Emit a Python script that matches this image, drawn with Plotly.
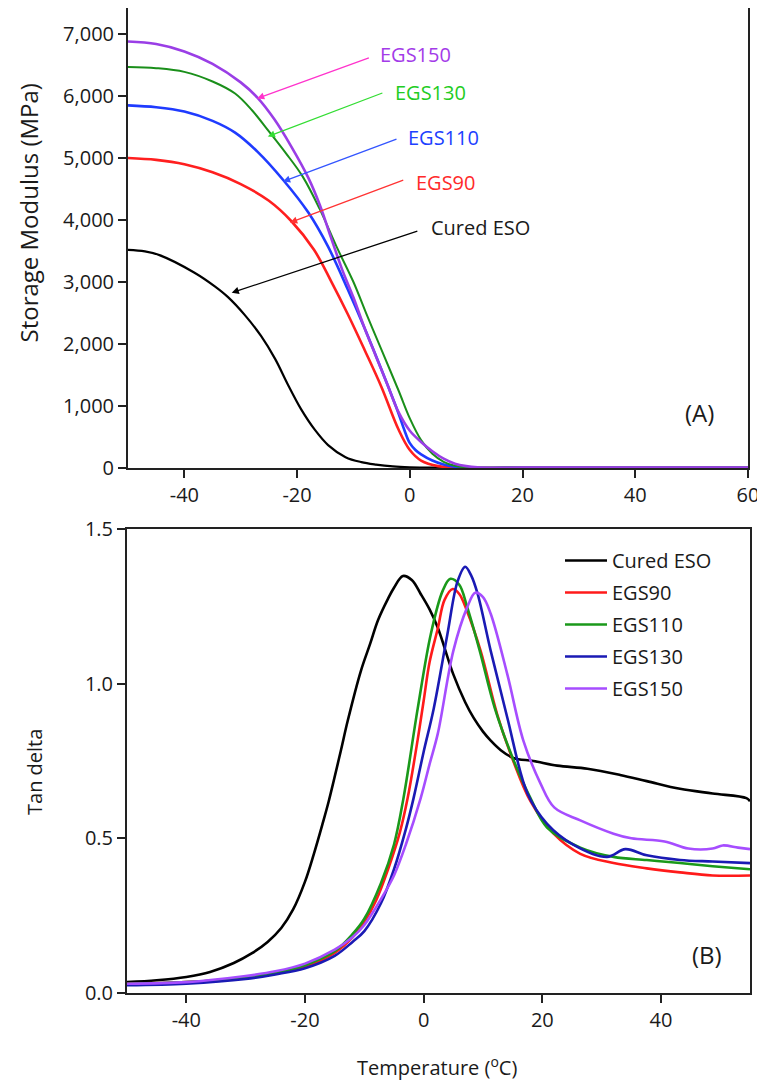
import plotly.graph_objects as go

# ---------------- Panel A: storage modulus (MPa) ----------------
sm_eso_x = [-50, -47, -44.3, -38.2, -34.6, -32.3, -29.3, -26.4, -23.9, -21.6, -19.3, -16.8, -14.5, -11.4, -8.6, -6, -3, 0, 5, 10, 20, 30, 40, 50, 60]
sm_eso_y = [3520, 3495, 3430, 3150, 2930, 2760, 2470, 2130, 1760, 1340, 950, 610, 370, 175, 95, 55, 25, 12, 5, 3, 2, 2, 2, 2, 2]

sm_90_x = [-50, -45, -40, -35, -30, -25, -21, -17, -14, -11, -8, -5, -2, 0, 2, 5, 10, 20, 30, 40, 50, 60]
sm_90_y = [5000, 4970, 4900, 4770, 4580, 4310, 3980, 3520, 3020, 2480, 1900, 1300, 620, 290, 120, 30, 5, 2, 2, 2, 2, 2]

sm_110_x = [-50, -45, -40, -35, -31, -27, -22.5, -18, -14.5, -11, -8, -5, -2, -1, 0, 1, 2, 4, 6, 8, 10, 20, 30, 40, 50, 60]
sm_110_y = [5850, 5820, 5750, 5600, 5410, 5100, 4650, 4120, 3570, 2880, 2250, 1580, 880, 620, 400, 290, 220, 120, 55, 20, 5, 2, 2, 2, 2, 2]

sm_130_x = [-50, -45, -40, -35, -31, -28, -25, -22, -19, -16, -13, -10, -7.5, -5, -2, 0, 2, 4, 6, 8, 10, 15, 20, 30, 40, 50, 60]
sm_130_y = [6470, 6450, 6390, 6235, 6040, 5770, 5430, 5080, 4700, 4180, 3570, 3000, 2440, 1900, 1250, 800, 450, 230, 100, 35, 10, 3, 2, 2, 2, 2, 2]

sm_150_x = [-50, -45, -40, -35, -30, -27, -24, -21, -18, -16, -14, -12, -10, -8, -6, -4, -2, 0, 2, 4, 6, 8, 10, 12, 15, 20, 30, 40, 50, 60]
sm_150_y = [6880, 6840, 6720, 6520, 6220, 5970, 5620, 5180, 4680, 4250, 3720, 3200, 2750, 2250, 1800, 1350, 900, 600, 420, 270, 150, 70, 30, 10, 3, 2, 2, 2, 2, 2]

# ---------------- Panel B: tan delta ----------------
td_eso_x = [-50, -45, -40, -36, -32, -29, -26.3, -24, -22, -20, -18.5, -17, -16, -14, -12.8, -10.6, -9, -7.7, -6, -5, -3.5,
            -2, -0.5, 1, 2.4, 5, 7, 8.4, 10, 11.3, 13, 15.1, 18.5, 22.5, 27.6, 33.1, 37.6, 43.2, 48.7, 54.4, 55]
td_eso_y = [0.035, 0.041, 0.052, 0.068, 0.097, 0.128, 0.165, 0.21, 0.27, 0.36, 0.45, 0.55, 0.62, 0.78, 0.88, 1.04, 1.13, 1.205, 1.275, 1.31, 1.348,
            1.335, 1.29, 1.24, 1.18, 1.03, 0.94, 0.89, 0.845, 0.816, 0.785, 0.76, 0.75, 0.735, 0.725, 0.705, 0.685, 0.66, 0.645, 0.63, 0.62]

td_90_x = [-50, -40, -30, -25, -20, -15, -12, -10, -8, -6, -4, -2.7, -1, 0, 1, 2.4, 3.5, 4.9, 6, 7.3, 9.6, 12.4, 15.1, 18,
           21.9, 26.4, 32, 37.6, 43.2, 48.7, 55]
td_90_y = [0.03, 0.035, 0.05, 0.065, 0.085, 0.13, 0.18, 0.23, 0.3, 0.4, 0.52, 0.63, 0.82, 0.945, 1.07, 1.18, 1.27, 1.306, 1.29, 1.235, 1.106, 0.90, 0.75, 0.62,
           0.515, 0.45, 0.42, 0.403, 0.39, 0.38, 0.38]

td_110_x = [-50, -40, -30, -25, -20, -15, -12, -10, -7.2, -5, -3.4, -1, 1.2, 3.2, 4.5, 6, 7.3, 9.4, 12, 15, 18,
            20.8, 26.4, 32, 37.6, 43.2, 48.7, 55]
td_110_y = [0.03, 0.035, 0.05, 0.065, 0.09, 0.135, 0.19, 0.24, 0.355, 0.48, 0.63, 0.92, 1.16, 1.30, 1.339, 1.32, 1.25, 1.11, 0.92, 0.76, 0.63,
            0.535, 0.47, 0.44, 0.43, 0.42, 0.41, 0.40]

td_130_x = [-50, -40, -30, -25, -20, -15, -12, -10, -7.2, -5, -3, -1.7, 0, 1.7, 4, 5.7, 7, 8, 9.1, 11.3, 14.1, 17.5,
            20.8, 25.2, 30.9, 34, 37.6, 43.2, 48.7, 55]
td_130_y = [0.025, 0.03, 0.045, 0.06, 0.08, 0.12, 0.165, 0.2, 0.29, 0.4, 0.53, 0.63, 0.78, 0.92, 1.16, 1.33, 1.378, 1.35, 1.29, 1.106, 0.89, 0.645,
            0.547, 0.48, 0.44, 0.465, 0.445, 0.43, 0.425, 0.42]

td_150_x = [-50, -40, -30, -25, -20, -15, -12, -10, -7, -5, -3, -0.5, 1, 2.4, 5, 7.3, 8.7, 10, 11.3, 14.1, 16.8, 19.7,
            22, 26.4, 32, 35, 40.6, 44.6, 48.7, 50.4, 53, 55]
td_150_y = [0.03, 0.035, 0.055, 0.07, 0.095, 0.14, 0.18, 0.22, 0.31, 0.38, 0.48, 0.63, 0.74, 0.84, 1.106, 1.245, 1.294, 1.28, 1.226, 1.03, 0.816, 0.677,
            0.6, 0.558, 0.515, 0.50, 0.49, 0.467, 0.467, 0.477, 0.47, 0.465]

# ---------------- tick labels ----------------
xa_tickvals = [-40, -20, 0, 20, 40, 60]
xa_ticktext = ["-40", "-20", "0", "20", "40", "60"]
xb_tickvals = [-40, -20, 0, 20, 40]
xb_ticktext = ["-40", "-20", "0", "20", "40"]

FONT = "Open Sans"
INK = "#1a1a1a"

# The page body has an 8px margin, so the figure is drawn 8px in from the window corner.
OFF = 8
W, H = 765 - OFF, 1082 - OFF


def px(xs):
    """screen x pixel -> paper fraction"""
    return (xs - OFF) / W


def py(ys):
    """screen y pixel -> paper fraction"""
    return 1 - (ys - OFF) / H


fig = go.Figure()

top_series = [
    (sm_eso_x, sm_eso_y, "#000000", 2.2),
    (sm_90_x, sm_90_y, "#ff1f1f", 2.6),
    (sm_110_x, sm_110_y, "#1f3bff", 2.6),
    (sm_130_x, sm_130_y, "#1a8f1a", 2.0),
    (sm_150_x, sm_150_y, "#9a3ee6", 2.6),
]
for xs, ys, c, w in top_series:
    fig.add_trace(go.Scatter(x=xs, y=ys, mode="lines", line=dict(color=c, width=w, shape="spline", smoothing=1.0),
                             xaxis="x", yaxis="y", showlegend=False, hoverinfo="skip"))

bot_series = [
    ("Cured ESO", td_eso_x, td_eso_y, "#000000"),
    ("EGS90", td_90_x, td_90_y, "#ff1a1a"),
    ("EGS110", td_110_x, td_110_y, "#1a991a"),
    ("EGS130", td_130_x, td_130_y, "#1a1ab4"),
    ("EGS150", td_150_x, td_150_y, "#a64dff"),
]
for name, xs, ys, c in bot_series:
    fig.add_trace(go.Scatter(x=xs, y=ys, mode="lines", name=name, legendgroup=name,
                             line=dict(color=c, width=2.6, shape="spline", smoothing=1.0),
                             xaxis="x2", yaxis="y2", hoverinfo="skip"))

axis_common = dict(showline=True, linecolor="#222222", linewidth=2, mirror=True, ticks="outside",
                   ticklen=8, tickwidth=1.5, tickcolor="#222222", showgrid=False, zeroline=False,
                   automargin=False, tickfont=dict(family=FONT, size=20, color=INK))

fig.update_layout(
    template="none",
    width=W, height=H,
    margin=dict(l=0, r=0, t=0, b=0, pad=0),
    paper_bgcolor="white", plot_bgcolor="white",
    font=dict(family=FONT, color=INK),
    xaxis=dict(domain=[px(128), px(748)], range=[-50, 60], tickvals=xa_tickvals, ticktext=xa_ticktext,
               anchor="y", **axis_common),
    yaxis=dict(domain=[py(468), py(8)], range=[0, 7420], dtick=1000, tickformat=",",
               anchor="x", **axis_common),
    xaxis2=dict(domain=[px(127), px(750)], range=[-50, 55], tickvals=xb_tickvals, ticktext=xb_ticktext,
                anchor="y2", **axis_common),
    yaxis2=dict(domain=[py(993), py(529)], range=[0, 1.5], dtick=0.5, tickformat=".1f",
                anchor="x2", **axis_common),
    legend=dict(x=px(560), y=py(541), xanchor="left", yanchor="top",
                font=dict(family=FONT, size=20, color=INK), tracegroupgap=3,
                bgcolor="rgba(0,0,0,0)", itemwidth=42),
)

# Arrow labels for panel A: (text, head_x, head_y, tail_x, tail_y, text_x, text_y, arrow colour, text colour)
labels_a = [
    ("EGS150", -27.1, 5961, -7.0, 6624, -5.7, 6672, "#ff33cc", "#a33be8"),
    ("EGS130", -25.2, 5347, -4.6, 6058, -2.9, 6058, "#33dd33", "#22cc22"),
    ("EGS110", -22.5, 4620, -2.1, 5315, -0.7, 5331, "#3355ff", "#2040ff"),
    ("EGS90", -21.25, 3958, -0.9, 4653, 0.7, 4604, "#ff3333", "#ff2a2a"),
    ("Cured ESO", -31.6, 2827, 1.6, 3829, 3.4, 3877, "#000000", INK),
]
annotations = []
for text, hx, hy, tx, ty, lx, ly, ac, tc in labels_a:
    annotations.append(dict(x=hx, y=hy, ax=tx, ay=ty, xref="x", yref="y", axref="x", ayref="y",
                            text="", showarrow=True, arrowhead=2, arrowsize=1.1, arrowwidth=1.3, arrowcolor=ac))
    annotations.append(dict(x=lx, y=ly, xref="x", yref="y", text=text, showarrow=False, xanchor="left",
                            yanchor="middle", font=dict(family=FONT, size=20, color=tc)))

annotations += [
    dict(x=51.4, y=889, xref="x", yref="y", text="(A)", showarrow=False, xanchor="center", yanchor="middle",
         font=dict(family=FONT, size=24, color=INK)),
    dict(x=47.7, y=0.123, xref="x2", yref="y2", text="(B)", showarrow=False, xanchor="center", yanchor="middle",
         font=dict(family=FONT, size=24, color=INK)),
    dict(x=px(9), y=py(213), xref="paper", yref="paper", text="Storage Modulus (MPa)", textangle=-90,
         xanchor="left", yanchor="middle", showarrow=False, font=dict(family=FONT, size=24, color=INK)),
    dict(x=px(34), y=py(772), xref="paper", yref="paper", text="Tan delta", textangle=-90,
         xanchor="center", yanchor="middle", showarrow=False, font=dict(family=FONT, size=20, color=INK)),
    dict(x=px(437), y=py(1066), xref="paper", yref="paper", text="Temperature (<sup>o</sup>C)",
         xanchor="center", yanchor="middle", showarrow=False, font=dict(family=FONT, size=20, color=INK)),
]
fig.update_layout(annotations=annotations)

fig.write_html("out.html")
